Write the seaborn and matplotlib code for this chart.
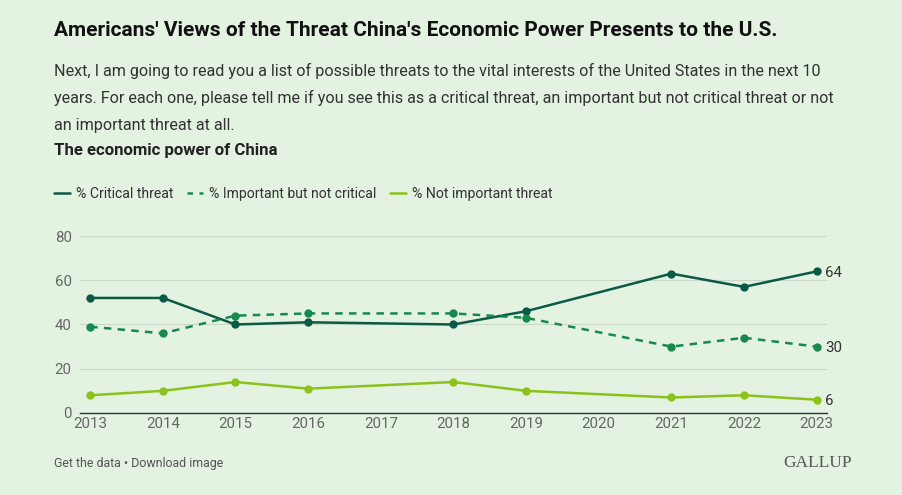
import matplotlib
matplotlib.use("Agg")
import matplotlib.pyplot as plt
from matplotlib.lines import Line2D
import seaborn as sns
import pandas as pd

# data
years = [2013, 2014, 2015, 2016, 2018, 2019, 2021, 2022, 2023]
critical = [52, 52, 40, 41, 40, 46, 63, 57, 64]
important = [39, 36, 44, 45, 45, 43, 30, 34, 30]
not_important = [8, 10, 14, 11, 14, 10, 7, 8, 6]
series_names = ["% Critical threat", "% Important but not critical", "% Not important threat"]
year_ticks = list(range(2013, 2024))
y_ticks = [0, 20, 40, 60, 80]

bg = "#E3F2E1"
colors = ["#0B5A45", "#17894E", "#8CC21C"]
dashes = ["-", (0, (3, 2.5)), "-"]

sns.set_theme(style="white")
plt.rcParams["font.family"] = ["Roboto", "DejaVu Sans"]

fig = plt.figure(figsize=(9.03, 4.95), dpi=100, facecolor=bg)
ax = fig.add_axes([0.0886, 0.1657, 0.827, 0.3575])
ax.set_facecolor(bg)

df = pd.DataFrame({"year": years, series_names[0]: critical,
                   series_names[1]: important, series_names[2]: not_important})
long = df.melt(id_vars="year", var_name="series", value_name="pct")

for name, col, ls in zip(series_names, colors, dashes):
    sub = long[long["series"] == name]
    sns.lineplot(data=sub, x="year", y="pct", ax=ax, color=col, linestyle=ls,
                 linewidth=1.8, marker="o", markersize=6, markeredgewidth=0,
                 legend=False)
    last = sub.iloc[-1]
    ax.text(last["year"] + 0.12, last["pct"] - 0.8, f"{int(last['pct'])}", va="center",
            ha="left", fontsize=10.8, color="#333333")

ax.set_xlim(2012.86, 2023.14)
ax.set_ylim(0, 80)
ax.set_xticks(year_ticks)
ax.set_yticks(y_ticks)
ax.set_xlabel("")
ax.set_ylabel("")
ax.grid(axis="y", color="#C9D8C7", linewidth=0.8)
for s in ["top", "right", "left"]:
    ax.spines[s].set_visible(False)
ax.spines["bottom"].set_color("#333333")
ax.spines["bottom"].set_linewidth(1)
ax.tick_params(axis="both", length=0, labelsize=10.8, colors="#666666")
ax.tick_params(axis="x", pad=3)
ax.tick_params(axis="y", pad=6)

# header texts
fig.text(54 / 903, 1 - 31 / 495, "Americans' Views of the Threat China's Economic Power Presents to the U.S.",
         fontsize=15, fontweight="bold", color="#111111", va="center")
sub_lines = ["Next, I am going to read you a list of possible threats to the vital interests of the United States in the next 10",
             "years. For each one, please tell me if you see this as a critical threat, an important but not critical threat or not",
             "an important threat at all."]
for i, line in enumerate(sub_lines):
    fig.text(54 / 903, 1 - (71 + 27 * i) / 495, line, fontsize=11.65, color="#333333", va="center")
fig.text(54 / 903, 1 - 151 / 495, "The economic power of China", fontsize=12.1,
         fontweight="bold", color="#222222", va="center")

legend_dashes = ["-", (0, (2.2, 2.6)), "-"]
handles = [Line2D([0], [0], color=c, linestyle=l, linewidth=1.8) for c, l in zip(colors, legend_dashes)]
fig.legend(handles, series_names, loc="center left", bbox_to_anchor=(54 / 903, 1 - 194 / 495),
           ncol=3, frameon=False, fontsize=10.1, handlelength=1.15, handletextpad=0.4,
           columnspacing=1.0, labelcolor="#333333", borderpad=0, borderaxespad=0)

fig.text(54 / 903, 1 - 463 / 495, "Get the data \u2022 Download image", fontsize=8.9,
         color="#555555", va="center")
fig.text(852 / 903, 1 - 463 / 495, "GALLUP", fontsize=12.5, color="#555555", va="center",
         ha="right", family=["Liberation Serif", "DejaVu Serif"])

fig.savefig("out.png", dpi=100, facecolor=bg)
